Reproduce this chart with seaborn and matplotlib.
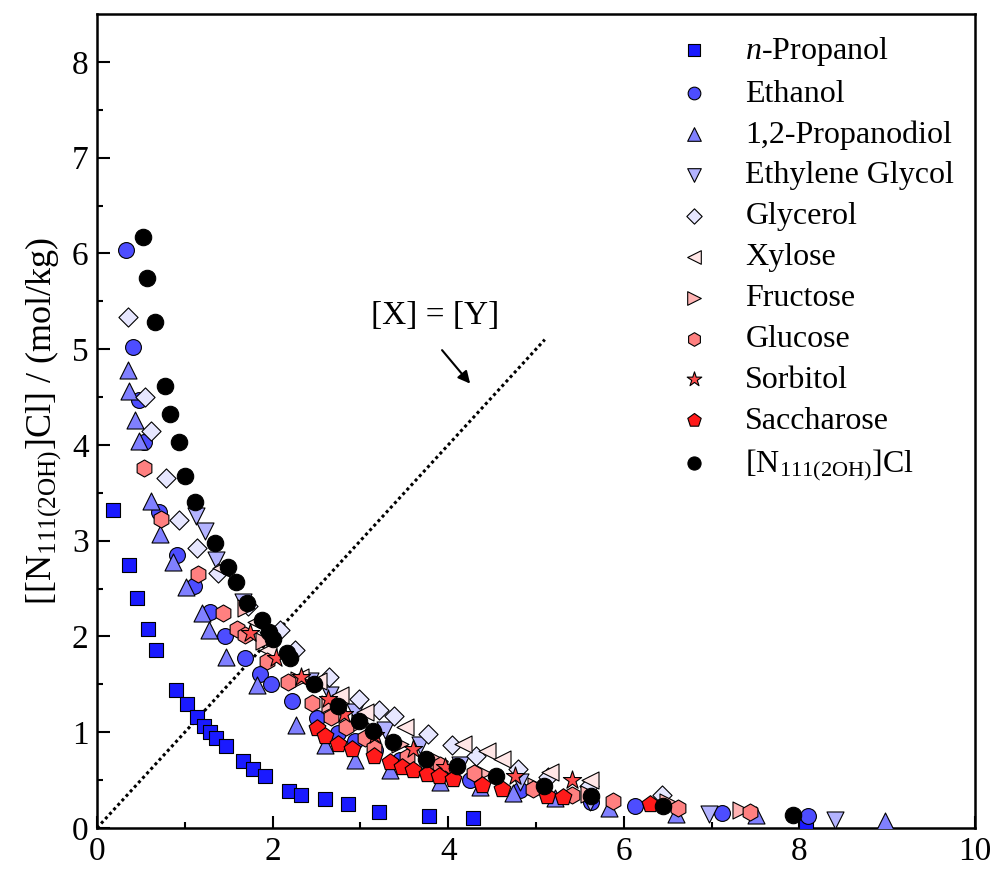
import numpy as np
import pandas as pd
import seaborn as sns
import matplotlib.pyplot as plt

sns.set_style("ticks")
plt.rcParams["font.family"] = ["Liberation Serif", "DejaVu Serif"]
plt.rcParams["mathtext.fontset"] = "custom"
plt.rcParams["mathtext.rm"] = "Liberation Serif"
plt.rcParams["mathtext.it"] = "Liberation Serif:italic"
plt.rcParams["font.size"] = 23
plt.rcParams.update({"text.color": "black", "axes.labelcolor": "black", "xtick.color": "black",
                     "ytick.color": "black", "axes.edgecolor": "black"})

# [X] on x axis, [N111(2OH)]Cl on y axis (mol/kg)
propanol_x = [0.18, 0.36, 0.46, 0.58, 0.67, 0.90, 1.02, 1.14, 1.22, 1.29, 1.35, 1.47, 1.66, 1.78, 1.91,
              2.19, 2.32, 2.60, 2.86, 3.21, 3.78, 4.28, 8.08]
propanol_y = [3.32, 2.75, 2.40, 2.08, 1.86, 1.44, 1.30, 1.16, 1.07, 1.00, 0.94, 0.86, 0.70, 0.62, 0.54,
              0.39, 0.34, 0.30, 0.25, 0.17, 0.13, 0.10, 0.06]

ethanol_x = [0.33, 0.41, 0.48, 0.54, 0.71, 0.91, 1.10, 1.29, 1.46, 1.68, 1.86, 1.98, 2.22, 2.50, 2.75,
             2.94, 3.17, 3.45, 3.79, 4.25, 4.82, 5.63, 6.13, 7.12, 8.10]
ethanol_y = [6.04, 5.02, 4.47, 4.03, 3.30, 2.85, 2.53, 2.26, 2.01, 1.77, 1.61, 1.50, 1.33, 1.15, 0.99,
             0.91, 0.81, 0.71, 0.61, 0.50, 0.40, 0.27, 0.23, 0.16, 0.13]

propanodiol_x = [0.35, 0.37, 0.43, 0.48, 0.61, 0.72, 0.87, 1.01, 1.20, 1.28, 1.47, 1.82, 2.27, 2.60,
                 2.94, 3.34, 3.91, 4.36, 4.74, 5.22, 5.83, 6.60, 7.51, 8.97]
propanodiol_y = [4.78, 4.56, 4.26, 4.04, 3.41, 3.07, 2.78, 2.52, 2.24, 2.07, 1.79, 1.49, 1.08, 0.87,
                 0.71, 0.61, 0.48, 0.43, 0.37, 0.31, 0.21, 0.15, 0.14, 0.07]

glycol_x = [1.13, 1.23, 1.36, 1.66, 1.95, 2.43, 2.65, 2.94, 3.28, 3.68, 4.13, 4.82, 5.62, 6.97, 8.41]
glycol_y = [3.26, 3.10, 2.80, 2.36, 1.96, 1.54, 1.39, 1.21, 1.02, 0.87, 0.66, 0.48, 0.27, 0.15, 0.08]

glycerol_x = [0.35, 0.55, 0.62, 0.79, 0.93, 1.14, 1.38, 1.72, 2.08, 2.26, 2.64, 2.98, 3.21, 3.38, 3.77,
              4.04, 4.32, 4.80, 5.14, 5.60, 6.43]
glycerol_y = [5.34, 4.50, 4.15, 3.66, 3.22, 2.92, 2.66, 2.32, 2.07, 1.86, 1.58, 1.35, 1.23, 1.17, 0.98,
              0.87, 0.75, 0.62, 0.53, 0.44, 0.34]

xylose_x = [1.41, 1.81, 1.95, 2.31, 2.52, 2.77, 3.05, 3.51, 4.17, 4.44, 4.61, 5.16, 5.62]
xylose_y = [2.72, 2.15, 1.86, 1.58, 1.54, 1.39, 1.21, 1.05, 0.88, 0.80, 0.72, 0.58, 0.50]

fructose_x = [1.70, 1.90, 2.30, 2.65, 3.00, 3.45, 3.90, 4.40, 5.00, 5.60, 6.50, 7.34]
fructose_y = [2.30, 1.95, 1.55, 1.30, 1.10, 0.88, 0.70, 0.57, 0.44, 0.35, 0.27, 0.19]

glucose_x = [0.53, 0.73, 1.15, 1.44, 1.60, 1.69, 1.94, 2.18, 2.45, 2.67, 2.84, 3.05, 3.16, 3.53, 3.91,
             4.29, 4.97, 5.41, 5.88, 6.62, 7.44]
glucose_y = [3.76, 3.23, 2.65, 2.25, 2.08, 2.02, 1.74, 1.52, 1.31, 1.16, 1.05, 0.94, 0.84, 0.74, 0.66,
             0.57, 0.41, 0.34, 0.28, 0.21, 0.17]

sorbitol_x = [1.74, 2.04, 2.32, 2.63, 2.81, 3.17, 3.60, 3.96, 4.76, 5.41]
sorbitol_y = [2.04, 1.77, 1.58, 1.35, 1.19, 0.97, 0.82, 0.64, 0.54, 0.50]

saccharose_x = [2.51, 2.60, 2.74, 2.90, 3.15, 3.34, 3.47, 3.60, 3.76, 3.89, 4.06, 4.38, 4.61, 5.12,
                5.31, 6.30]
saccharose_y = [1.04, 0.96, 0.88, 0.83, 0.75, 0.69, 0.64, 0.61, 0.56, 0.54, 0.51, 0.45, 0.41, 0.33,
                0.32, 0.25]

il_x = [0.52, 0.57, 0.66, 0.77, 0.83, 0.93, 1.00, 1.12, 1.34, 1.49, 1.58, 1.71, 1.88, 1.96, 2.01, 2.16,
        2.20, 2.47, 2.74, 2.98, 3.14, 3.37, 3.75, 4.10, 4.55, 5.09, 5.63, 6.45, 7.93]
il_y = [6.17, 5.74, 5.28, 4.62, 4.32, 4.03, 3.68, 3.40, 2.98, 2.73, 2.57, 2.35, 2.17, 2.05, 1.97, 1.83,
        1.78, 1.50, 1.27, 1.12, 1.01, 0.90, 0.72, 0.65, 0.54, 0.44, 0.33, 0.23, 0.14]

series = [
    ("$\\it{n}$-Propanol", propanol_x, propanol_y, "s", "#1a1aff", 110),
    ("Ethanol", ethanol_x, ethanol_y, "o", "#4d4dff", 130),
    ("1,2-Propanodiol", propanodiol_x, propanodiol_y, "^", "#8080ff", 150),
    ("Ethylene Glycol", glycol_x, glycol_y, "v", "#b3b3ff", 150),
    ("Glycerol", glycerol_x, glycerol_y, "D", "#e6e6ff", 95),
    ("Xylose", xylose_x, xylose_y, "<", "#ffe6e6", 150),
    ("Fructose", fructose_x, fructose_y, ">", "#ffb3b3", 150),
    ("Glucose", glucose_x, glucose_y, "h", "#ff8080", 150),
    ("Sorbitol", sorbitol_x, sorbitol_y, "*", "#ff4d4d", 190),
    ("Saccharose", saccharose_x, saccharose_y, "p", "#ff1a1a", 160),
    ("[N$_{\\mathrm{111(2OH)}}$]Cl", il_x, il_y, "o", "black", 140),
]

fig = plt.figure(figsize=(9.96, 8.72), dpi=100)
ax = fig.add_axes([97 / 996, 1 - 828 / 872, (975 - 97) / 996, (828 - 14) / 872])

for name, xs, ys, mk, col, size in series:
    df = pd.DataFrame({"x": xs, "y": ys})
    sns.scatterplot(data=df, x="x", y="y", marker=mk, color=col, s=size,
                    edgecolor="black", linewidth=0.8, label=name, ax=ax, zorder=3)

ax.plot([0, 5.1], [0, 5.1], color="black", linestyle=(0, (1, 1)), linewidth=2.2, zorder=2)
ax.text(3.85, 5.35, "[X] = [Y]", ha="center", va="center", fontsize=24)
ax.annotate("", xy=(4.25, 4.64), xytext=(3.93, 4.99),
            arrowprops=dict(arrowstyle="-|>", color="black", lw=1.5, mutation_scale=18,
                            shrinkA=0, shrinkB=0))

ax.set_xlim(0, 10)
ax.set_ylim(0, 8.5)
ax.set_xticks([0, 2, 4, 6, 8, 10])
ax.set_xticks([1, 3, 5, 7, 9], minor=True)
ax.set_yticks(range(0, 9))
ax.set_yticks(np.arange(0.5, 8.5, 1), minor=True)
ax.tick_params(which="major", direction="in", length=9, width=1.5, labelsize=24, pad=6)
ax.tick_params(which="minor", direction="in", length=4.5, width=1.5)
for sp in ax.spines.values():
    sp.set_linewidth(1.8)
ax.set_xlabel("")
ax.set_ylabel("[[N$_{\\mathrm{111(2OH)}}$]Cl] / (mol/kg)", fontsize=26, labelpad=6)

ax.legend(loc="upper right", frameon=False, fontsize=23, handletextpad=0.6,
          labelspacing=0.36, borderaxespad=0.25, markerscale=0.8)

plt.savefig("out.png", dpi=100)
